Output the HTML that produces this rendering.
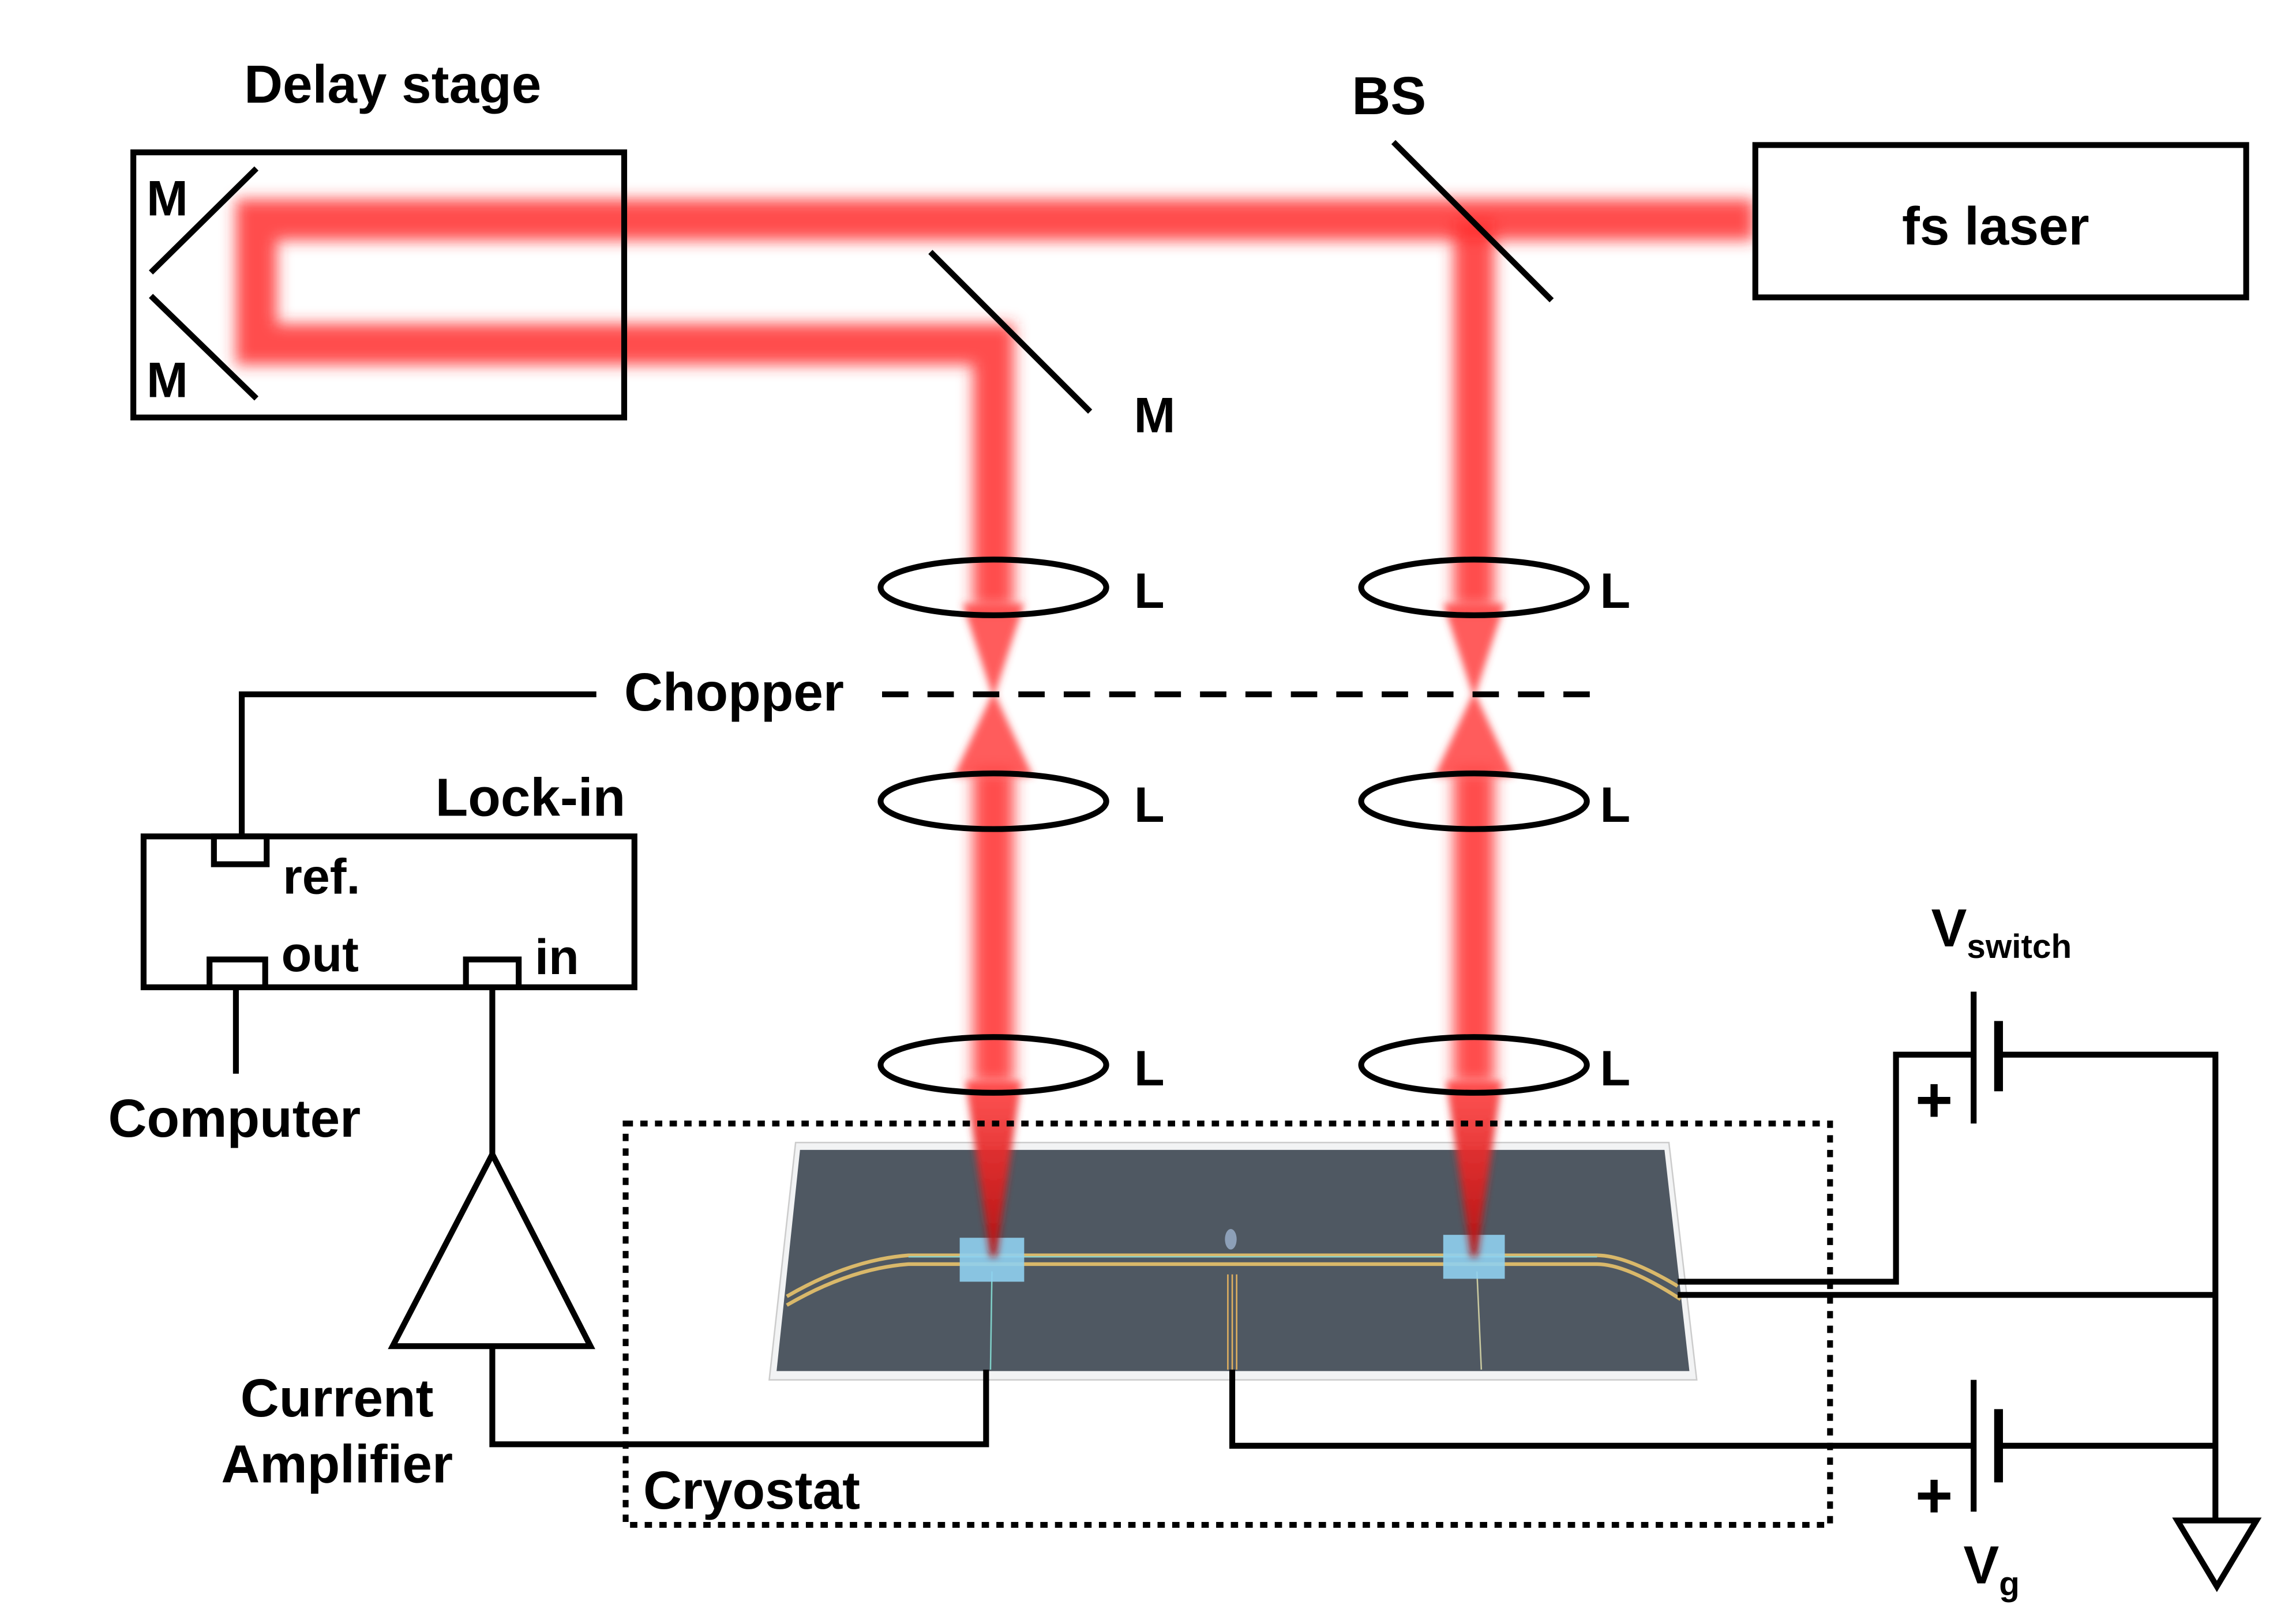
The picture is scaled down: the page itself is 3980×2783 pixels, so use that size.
<!DOCTYPE html>
<html><head><meta charset="utf-8"><style>
html,body{margin:0;padding:0;background:#fff}
svg{display:block}
text{font-family:"Liberation Sans",sans-serif;font-weight:bold;fill:#000}
</style></head><body>
<svg width="3980" height="2783" viewBox="0 0 1567 1095.7" xmlns="http://www.w3.org/2000/svg">
<defs>
<filter id="bl" x="-20%" y="-20%" width="140%" height="140%"><feGaussianBlur stdDeviation="5"/></filter>
<filter id="bl2" x="-50%" y="-20%" width="200%" height="140%"><feGaussianBlur stdDeviation="2.5"/></filter>
<linearGradient id="fade" x1="0" y1="0" x2="0" y2="1"><stop offset="0" stop-color="#ff4040" stop-opacity="0.9"/><stop offset="0.5" stop-color="#e02828" stop-opacity="0.95"/><stop offset="1" stop-color="#b01010" stop-opacity="1"/></linearGradient>
</defs>
<rect width="1567" height="1096" fill="#fff"/>

<!-- Chip -->
<polygon points="543,780 1139,780 1158,942 525,942" fill="#f2f3f4" stroke="#ccc" stroke-width="1"/>
<polygon points="546,785 1136,785 1153,936 530,936" fill="#4f5862"/>
<g fill="none" stroke-width="2.5">
<path d="M537 885 Q580 860 620 857 H1090 Q1110 857 1145 878" stroke="#d9b86a"/>
<path d="M537 891 Q580 866 620 863 H1090 Q1110 863 1147 887" stroke="#d9b86a"/>
<path d="M620 858 H1090" stroke="#8fd0c8" stroke-width="1"/>
</g>
<line x1="677" y1="868" x2="676" y2="935" stroke="#7fcfc8" stroke-width="1"/>
<line x1="1008" y1="868" x2="1011" y2="935" stroke="#c9c9a0" stroke-width="1"/>
<g stroke="#e0b060" stroke-width="1"><line x1="838" y1="870" x2="838" y2="935"/><line x1="841" y1="870" x2="841" y2="935"/><line x1="844" y1="870" x2="844" y2="935"/></g>
<ellipse cx="840" cy="846" rx="4" ry="7" fill="#8da0b8"/>
<rect x="655" y="845" width="44" height="30" fill="#8fd0f0" fill-opacity="0.9"/>
<rect x="985" y="843" width="42" height="30" fill="#8fd0f0" fill-opacity="0.9"/>

<!-- Beams -->
<g filter="url(#bl)" stroke="#ff3030" stroke-opacity="0.85" fill="none" stroke-width="28">
<path d="M1197 150 H175 V235 H678 V415"/>
<path d="M1006 150 V415"/>
<path d="M678 525 V740"/>
<path d="M1006 525 V740"/>
</g>
<g filter="url(#bl2)" fill="#ff4040" fill-opacity="0.85">
<polygon points="657,412 699,412 679,474 677,474"/>
<polygon points="985,412 1027,412 1007,474 1005,474"/>
<polygon points="677,474 679,474 705,530 651,530"/>
<polygon points="1005,474 1007,474 1033,530 979,530"/>
</g>
<g filter="url(#bl2)" fill="url(#fade)">
<polygon points="659,738 697,738 680,858 676,858"/>
<polygon points="987,738 1025,738 1008,858 1004,858"/>
</g>

<!-- Delay stage -->
<text x="268" y="70" font-size="36.5" text-anchor="middle">Delay stage</text>
<rect x="91" y="104" width="335" height="181" fill="none" stroke="#000" stroke-width="4"/>
<line x1="103" y1="186" x2="175" y2="115" stroke="#000" stroke-width="4"/>
<line x1="103" y1="202" x2="175" y2="272" stroke="#000" stroke-width="4"/>
<text x="100" y="147" font-size="34">M</text>
<text x="100" y="271" font-size="34">M</text>

<!-- BS, laser, M -->
<line x1="951" y1="97" x2="1059" y2="205" stroke="#000" stroke-width="4"/>
<text x="948" y="78" font-size="36.5" text-anchor="middle">BS</text>
<rect x="1198" y="99" width="335" height="104" fill="#fff" stroke="#000" stroke-width="4"/>
<text x="1362" y="167" font-size="36.5" text-anchor="middle">fs laser</text>
<line x1="635" y1="172" x2="744" y2="281" stroke="#000" stroke-width="4"/>
<text x="788" y="295" font-size="34" text-anchor="middle">M</text>

<!-- Lenses -->
<g fill="none" stroke="#000" stroke-width="4">
<ellipse cx="678" cy="401" rx="77" ry="19"/><ellipse cx="1006" cy="401" rx="77" ry="19"/>
<ellipse cx="678" cy="547" rx="77" ry="19"/><ellipse cx="1006" cy="547" rx="77" ry="19"/>
<ellipse cx="678" cy="727" rx="77" ry="19"/><ellipse cx="1006" cy="727" rx="77" ry="19"/>
</g>
<g font-size="34">
<text x="774" y="415">L</text><text x="1092" y="415">L</text>
<text x="774" y="561">L</text><text x="1092" y="561">L</text>
<text x="774" y="741">L</text><text x="1092" y="741">L</text>
</g>

<!-- Chopper -->
<line x1="602" y1="474" x2="1092" y2="474" stroke="#000" stroke-width="4" stroke-dasharray="18,13"/>
<text x="501" y="485" font-size="36.5" text-anchor="middle">Chopper</text>
<path d="M407 474 H165 V573" fill="none" stroke="#000" stroke-width="4"/>

<!-- Lock-in -->
<text x="362" y="557" font-size="36.5" text-anchor="middle">Lock-in</text>
<rect x="98" y="571" width="335" height="103" fill="none" stroke="#000" stroke-width="4"/>
<rect x="146" y="571" width="36" height="19" fill="#fff" stroke="#000" stroke-width="4"/>
<rect x="143" y="655" width="38" height="19" fill="#fff" stroke="#000" stroke-width="4"/>
<rect x="318" y="655" width="36" height="19" fill="#fff" stroke="#000" stroke-width="4"/>
<text x="193" y="610" font-size="34">ref.</text>
<text x="192" y="663" font-size="34">out</text>
<text x="365" y="665" font-size="34">in</text>
<line x1="161" y1="674" x2="161" y2="733" stroke="#000" stroke-width="4"/>
<text x="160" y="776" font-size="36.5" text-anchor="middle">Computer</text>

<!-- Amplifier -->
<line x1="336" y1="674" x2="336" y2="788" stroke="#000" stroke-width="4"/>
<polygon points="336,788 268,919 403,919" fill="#fff" stroke="#000" stroke-width="4"/>
<path d="M336 919 V986 H673 V935" fill="none" stroke="#000" stroke-width="4"/>
<text x="230" y="967" font-size="36.5" text-anchor="middle">Current</text>
<text x="230" y="1012" font-size="36.5" text-anchor="middle">Amplifier</text>

<!-- Cryostat -->
<rect x="427" y="767" width="822" height="274" fill="none" stroke="#000" stroke-width="4" stroke-dasharray="5,5"/>
<text x="439" y="1030" font-size="36.5">Cryostat</text>

<!-- Circuit -->
<g fill="none" stroke="#000" stroke-width="4">
<path d="M1145 875 H1294 V720 H1347"/>
<path d="M1365 720 H1512 V1038"/>
<path d="M1145 884 H1512"/>
<path d="M841 935 V987 H1347"/>
<path d="M1365 987 H1512"/>
<line x1="1347" y1="677" x2="1347" y2="767"/>
<line x1="1364" y1="697" x2="1364" y2="745" stroke-width="6"/>
<line x1="1347" y1="942" x2="1347" y2="1032"/>
<line x1="1364" y1="962" x2="1364" y2="1012" stroke-width="6"/>
<polygon points="1486,1038 1540,1038 1513,1083"/>
</g>
<text x="1320" y="766" font-size="44" font-weight="normal" text-anchor="middle">+</text>
<text x="1320" y="1036" font-size="44" font-weight="normal" text-anchor="middle">+</text>
<text x="1318" y="646" font-size="36.5">V<tspan font-size="23" dy="8">switch</tspan></text>
<text x="1340" y="1081" font-size="36.5">V<tspan font-size="23" dy="8">g</tspan></text>
</svg>
</body></html>
